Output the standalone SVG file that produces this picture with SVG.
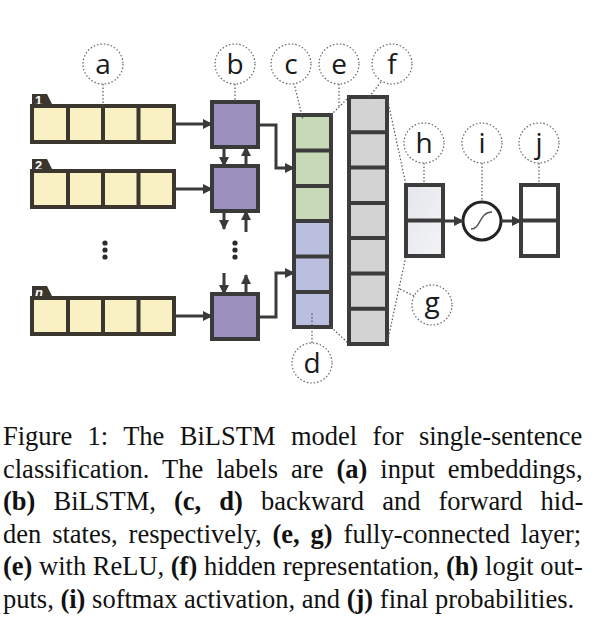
<svg xmlns="http://www.w3.org/2000/svg" width="598" height="624" viewBox="0 0 598 624">
<defs>
<marker id="ah" markerUnits="userSpaceOnUse" markerWidth="10" markerHeight="10" refX="9" refY="5" orient="auto">
<path d="M0,0 L10,5 L0,10 z" fill="#3a3a3a"/>
</marker>
<linearGradient id="hg" x1="0" y1="0" x2="1" y2="1">
<stop offset="0" stop-color="#e3e6eb"/><stop offset="1" stop-color="#f3f4f6"/>
</linearGradient>
<style>
.emb{fill:#f9f1c4;stroke:#3b372f;stroke-width:4}
.dv{stroke:#3b372f;stroke-width:4}
.tab{fill:#3b372f}
.tabt{font-family:"Liberation Sans",Arial,sans-serif;font-weight:bold;font-size:13px;fill:#fff}
.lstm{fill:#9c90be;stroke:#3a3a3a;stroke-width:4}
.cg{fill:#c8d9b8}
.cb{fill:#babfdf}
.cf{fill:#d3d3d3}
.frame{fill:none;stroke:#3c3c3c;stroke-width:4}
.ln{stroke:#3c3c3c;stroke-width:4}
.lab{fill:#fff;stroke:#666;stroke-width:1.2;stroke-dasharray:1.5 2}
.lead{fill:none;stroke:#555;stroke-width:1.2;stroke-dasharray:1.5 2}
.labt{font-family:"Open Sans","DejaVu Sans",sans-serif;font-size:28px;fill:#1a1a1a;text-anchor:middle}
.conn{fill:none;stroke:#3a3a3a;stroke-width:3;marker-end:url(#ah)}
.dot{fill:#2a2a2a}
.cap text{font-family:'Liberation Serif','Times New Roman',serif;font-size:26.5px;fill:#111}
.b{font-weight:bold}
</style>
</defs>

<g id="row1">
<polygon class="tab" points="32,106 32,94 47,94 53,106"/>
<text class="tabt" x="35" y="105">1</text>
<rect class="emb" x="32" y="106" width="142" height="36"/>
<path class="dv" d="M68,106V142M103,106V142M138.5,106V142"/>
</g>
<g id="row2">
<polygon class="tab" points="32,171 32,159 47,159 53,171"/>
<text class="tabt" x="35" y="170">2</text>
<rect class="emb" x="32" y="171" width="142" height="36"/>
<path class="dv" d="M68,171V207M103,171V207M138.5,171V207"/>
</g>
<g id="rown">
<polygon class="tab" points="32,298 32,286 47,286 53,298"/>
<text class="tabt" x="35" y="297" font-style="italic">n</text>
<rect class="emb" x="32" y="298" width="142" height="36"/>
<path class="dv" d="M68,298V334M103,298V334M138.5,298V334"/>
</g>
<g id="dots">
<circle class="dot" cx="105" cy="243" r="2.6"/><circle class="dot" cx="105" cy="250" r="2.6"/><circle class="dot" cx="105" cy="257" r="2.6"/>
<circle class="dot" cx="235" cy="243" r="2.6"/><circle class="dot" cx="235" cy="250" r="2.6"/><circle class="dot" cx="235" cy="257" r="2.6"/>
</g>

<g id="lstm1"><rect class="lstm" x="212" y="102" width="46" height="45"/></g>
<g id="lstm2"><rect class="lstm" x="212" y="166" width="46" height="45"/></g>
<g id="lstmn"><rect class="lstm" x="212" y="294" width="46" height="45"/></g>

<g id="hidden-cd">
<rect class="cg" x="294" y="115" width="37" height="106"/>
<rect class="cb" x="294" y="221" width="37" height="106"/>
<rect class="frame" x="294" y="115" width="37" height="212"/>
<path class="ln" d="M294,150.5H331M294,186H331M294,221H331M294,256.5H331M294,292H331"/>
</g>
<g id="hidden-f">
<rect class="cf" x="349" y="97" width="38" height="247"/>
<rect class="frame" x="349" y="97" width="38" height="247"/>
<path class="ln" d="M349,132.3H387M349,167.6H387M349,202.9H387M349,238.1H387M349,273.4H387M349,308.7H387"/>
</g>
<g id="logits-h">
<rect x="406" y="185" width="37" height="71" fill="url(#hg)" stroke="#3c3c3c" stroke-width="4"/>
<path class="ln" d="M406,220.5H443"/>
</g>
<g id="softmax-i">
<circle cx="482" cy="221" r="19" fill="#fff" stroke="#222" stroke-width="3"/>
<path d="M471,229 C481,229 479,212 492,212" fill="none" stroke="#555" stroke-width="1.5"/>
</g>
<g id="probs-j">
<rect x="521" y="185" width="37" height="71" fill="#fff" stroke="#3c3c3c" stroke-width="4"/>
<path class="ln" d="M521,220.5H558"/>
</g>

<g id="connectors">
<path class="conn" d="M174,124H212"/>
<path class="conn" d="M174,189H212"/>
<path class="conn" d="M174,316H212"/>
<path class="conn" d="M224,147V166"/>
<path class="conn" d="M246,166V147"/>
<path class="conn" d="M224,211V229"/>
<path class="conn" d="M246,232V211"/>
<path class="conn" d="M224,273V294"/>
<path class="conn" d="M246,294V275"/>
<path class="conn" d="M258,125H276V168H294"/>
<path class="conn" d="M258,317H276V273H294"/>
<path class="conn" d="M443,221H463"/>
<path class="conn" d="M501,221H521"/>
</g>

<g id="leaders">
<path class="lead" d="M103,84V106"/>
<path class="lead" d="M235,84V102"/>
<path class="lead" d="M294,83L303,120"/>
<path class="lead" d="M339,84V106"/>
<path class="lead" d="M331,115L349,97"/>
<path class="lead" d="M331,327L349,344"/>
<path class="lead" d="M381,82L369,97"/>
<path class="lead" d="M387,97L406,185"/>
<path class="lead" d="M387,344L406,256"/>
<path class="lead" d="M414,296L400,289"/>
<path class="lead" d="M424,163V185"/>
<path class="lead" d="M482,163V202"/>
<path class="lead" d="M539,163V185"/>
<path class="lead" d="M312,343V312"/>
</g>

<g id="label-a"><circle class="lab" cx="103" cy="64" r="20"/><text class="labt" x="103" y="74">a</text></g>
<g id="label-b"><circle class="lab" cx="235" cy="64" r="20"/><text class="labt" x="235" y="74">b</text></g>
<g id="label-c"><circle class="lab" cx="291" cy="64" r="20"/><text class="labt" x="291" y="74">c</text></g>
<g id="label-e"><circle class="lab" cx="339" cy="64" r="20"/><text class="labt" x="339" y="74">e</text></g>
<g id="label-f"><circle class="lab" cx="392" cy="64" r="20"/><text class="labt" x="392" y="74">f</text></g>
<g id="label-h"><circle class="lab" cx="424" cy="143" r="20"/><text class="labt" x="424" y="153">h</text></g>
<g id="label-i"><circle class="lab" cx="482" cy="143" r="20"/><text class="labt" x="482" y="153">i</text></g>
<g id="label-j"><circle class="lab" cx="539" cy="143" r="20"/><text class="labt" x="539" y="153">j</text></g>
<g id="label-d"><circle class="lab" cx="312" cy="363" r="20"/><text class="labt" x="312" y="373">d</text></g>
<g id="label-g"><circle class="lab" cx="432" cy="305" r="20"/><text class="labt" x="432" y="312">g</text></g>

<g id="caption" class="cap">
<text x="3" y="445" word-spacing="8.8">Figure 1: The BiLSTM model for single-sentence</text>
<text x="3" y="477.6" word-spacing="6.4">classification. The labels are <tspan class="b">(a)</tspan> input embeddings,</text>
<text x="3" y="510.2" word-spacing="11.5"><tspan class="b">(b)</tspan> BiLSTM, <tspan class="b">(c, d)</tspan> backward and forward hid-</text>
<text x="3" y="542.8" word-spacing="4.3">den states, respectively, <tspan class="b">(e, g)</tspan> fully-connected layer;</text>
<text x="3" y="575.4">
<tspan class="b">(e)</tspan> with ReLU, <tspan class="b">(f)</tspan> hidden representation, <tspan class="b">(h)</tspan> logit out-</text>
<text x="3" y="608">puts, <tspan class="b">(i)</tspan> softmax activation, and <tspan class="b">(j)</tspan> final probabilities.</text>
</g>
</svg>
